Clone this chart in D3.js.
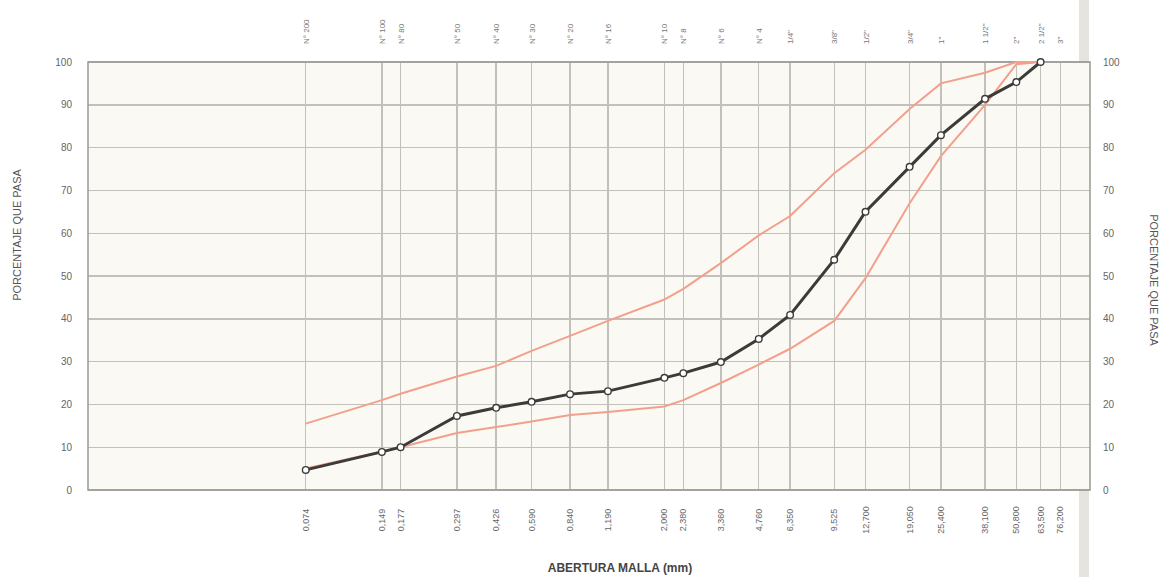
<!DOCTYPE html>
<html>
<head>
<meta charset="utf-8">
<script src="https://d3js.org/d3.v7.min.js"></script>
<style>
body { margin: 0; background: #fff; }
svg { display: block; font-family: "Liberation Sans", Arial, sans-serif; }
.grid line { stroke: #c2c0bb; stroke-width: 1.4px; shape-rendering: crispEdges; }
.tick-lbl { fill: #666; font-size: 10px; }
.sieve-lbl { fill: #777; font-size: 8px; }
.mm-lbl { fill: #666; font-size: 9px; }
.axis-title { fill: #555; font-size: 11px; }
</style>
</head>
<body>
<svg></svg>
<script>
// sieve openings (mm), names on top, labels at the bottom
var sieveMm = [0.074, 0.149, 0.177, 0.297, 0.426, 0.590, 0.840, 1.190, 2.000, 2.380, 3.360,
               4.760, 6.350, 9.525, 12.700, 19.050, 25.400, 38.100, 50.800, 63.500, 76.200];
var sieveNames = ["N° 200", "N° 100", "N° 80", "N° 50", "N° 40", "N° 30", "N° 20", "N° 16",
                  "N° 10", "N° 8", "N° 6", "N° 4", "1/4\"", "3/8\"", "1/2\"", "3/4\"", "1\"",
                  "1 1/2\"", "2\"", "2 1/2\"", "3\""];
var mmLabels = ["0,074", "0,149", "0,177", "0,297", "0,426", "0,590", "0,840", "1,190", "2,000",
                "2,380", "3,360", "4,760", "6,350", "9,525", "12,700", "19,050", "25,400",
                "38,100", "50,800", "63,500", "76,200"];
var yTicks = [0, 10, 20, 30, 40, 50, 60, 70, 80, 90, 100];

// % passing (first 20 sieves, up to 2 1/2")
var passing    = [4.7, 8.9, 10.0, 17.3, 19.2, 20.6, 22.4, 23.1, 26.2, 27.3, 29.9, 35.3, 40.9, 53.8, 65.0, 75.5, 82.9, 91.4, 95.3, 100];
var upperLimit = [15.5, 21.0, 22.5, 26.5, 29.0, 32.5, 36.0, 39.5, 44.5, 47.0, 53.0, 59.5, 64.0, 74.0, 79.5, 89.0, 95.0, 97.5, 100, 100];
var lowerLimit = [5.0, 9.0, 10.0, 13.3, 14.7, 16.0, 17.5, 18.2, 19.5, 21.0, 25.0, 29.3, 33.0, 39.5, 49.5, 67.0, 78.0, 90.0, 99.5, 100];

var width = 1165, height = 577;
var mLeft = 88, mRight = 1090, mTop = 62, mBottom = 490;

var svg = d3.select("svg").attr("width", width).attr("height", height);

var x = d3.scaleLog().domain([0.01, 100]).range([mLeft, mRight]);
var y = d3.scaleLinear().domain([0, 100]).range([mBottom, mTop]);

// scan edge band on the right
svg.append("rect")
    .attr("x", 1079).attr("y", 0)
    .attr("width", 10).attr("height", height)
    .style("fill", "#e6e4df");

// plot background
svg.append("rect")
    .attr("x", mLeft).attr("y", mTop)
    .attr("width", mRight - mLeft).attr("height", mBottom - mTop)
    .style("fill", "#fbf9f4");

// horizontal gridlines
svg.append("g")
    .attr("class", "grid")
    .selectAll("line")
    .data(yTicks)
    .enter().append("line")
    .attr("x1", mLeft).attr("x2", mRight)
    .attr("y1", function(d) { return y(d); })
    .attr("y2", function(d) { return y(d); });

// vertical gridlines at each sieve
svg.append("g")
    .attr("class", "grid")
    .selectAll("line")
    .data(sieveMm)
    .enter().append("line")
    .attr("x1", function(d) { return x(d); })
    .attr("x2", function(d) { return x(d); })
    .attr("y1", mTop).attr("y2", mBottom);

// border
svg.append("rect")
    .attr("x", mLeft).attr("y", mTop)
    .attr("width", mRight - mLeft).attr("height", mBottom - mTop)
    .style("fill", "none")
    .style("stroke", "#9a9894")
    .style("stroke-width", "1.5px");

// left y labels
svg.append("g")
    .selectAll("text")
    .data(yTicks)
    .enter().append("text")
    .attr("class", "tick-lbl")
    .attr("x", 72)
    .attr("y", function(d) { return y(d) + 3.5; })
    .attr("text-anchor", "end")
    .text(function(d) { return d; });

// right y labels
svg.append("g")
    .selectAll("text")
    .data(yTicks)
    .enter().append("text")
    .attr("class", "tick-lbl")
    .attr("x", 1103)
    .attr("y", function(d) { return y(d) + 3.5; })
    .attr("text-anchor", "start")
    .text(function(d) { return d; });

// sieve names on top
svg.append("g")
    .selectAll("text")
    .data(sieveMm)
    .enter().append("text")
    .attr("class", "sieve-lbl")
    .attr("transform", function(d) { return "translate(" + (x(d) + 3) + ",44) rotate(-90)"; })
    .attr("text-anchor", "start")
    .text(function(d, i) { return sieveNames[i]; });

// openings at the bottom
svg.append("g")
    .selectAll("text")
    .data(sieveMm)
    .enter().append("text")
    .attr("class", "mm-lbl")
    .attr("transform", function(d) { return "translate(" + (x(d) + 3) + ",520) rotate(-90)"; })
    .attr("text-anchor", "middle")
    .text(function(d, i) { return mmLabels[i]; });

// axis titles
svg.append("text")
    .attr("class", "axis-title")
    .attr("transform", "translate(21,235) rotate(-90)")
    .attr("text-anchor", "middle")
    .text("PORCENTAJE QUE PASA");

svg.append("text")
    .attr("class", "axis-title")
    .attr("transform", "translate(1150,280) rotate(90)")
    .attr("text-anchor", "middle")
    .text("PORCENTAJE QUE PASA");

svg.append("text")
    .attr("x", 620).attr("y", 572)
    .attr("text-anchor", "middle")
    .style("font-size", "12px")
    .style("font-weight", "bold")
    .style("fill", "#444")
    .text("ABERTURA MALLA (mm)");

var line = d3.line()
    .x(function(d) { return x(d[0]); })
    .y(function(d) { return y(d[1]); });

function pairs(vals) {
    return vals.map(function(v, i) { return [sieveMm[i], v]; });
}

// spec limits
[upperLimit, lowerLimit].forEach(function(vals) {
    svg.append("path")
        .datum(pairs(vals))
        .attr("d", line)
        .style("fill", "none")
        .style("stroke", "#f2a08c")
        .style("stroke-width", "2px");
});

// grading curve
svg.append("path")
    .datum(pairs(passing))
    .attr("d", line)
    .style("fill", "none")
    .style("stroke", "#3b3b39")
    .style("stroke-width", "3px");

svg.append("g")
    .selectAll("circle")
    .data(pairs(passing))
    .enter().append("circle")
    .attr("cx", function(d) { return x(d[0]); })
    .attr("cy", function(d) { return y(d[1]); })
    .attr("r", 3.3)
    .style("fill", "#fff")
    .style("stroke", "#3b3b39")
    .style("stroke-width", "1.4px");
</script>
</body>
</html>
